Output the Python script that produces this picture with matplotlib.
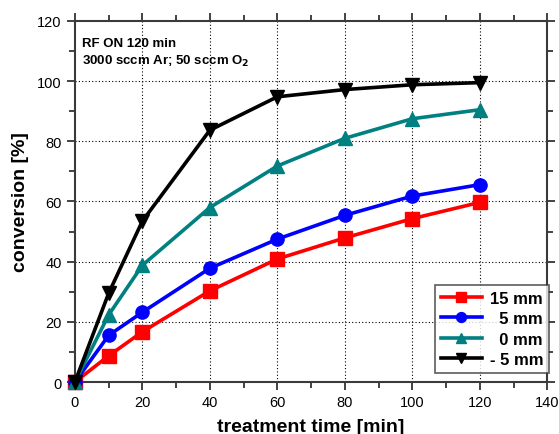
import matplotlib
matplotlib.use("Agg")
import matplotlib.pyplot as plt

plt.rcParams['font.family'] = ['Liberation Sans', 'DejaVu Sans']

# data
t = [0, 10, 20, 40, 60, 80, 100, 120]
conv_15 = [0, 8.7, 16.7, 30.3, 40.9, 47.9, 54.3, 59.7]
conv_5 = [0, 15.5, 23.2, 37.8, 47.5, 55.4, 61.8, 65.6]
conv_0 = [0, 22.3, 38.8, 58.0, 71.8, 81.0, 87.5, 90.5]
conv_m5 = [0, 29.5, 53.5, 83.7, 94.8, 97.2, 98.8, 99.5]

labels = ['15 mm', '\u20075 mm', '\u20070 mm', '- 5 mm']
colors = ['#ff0000', '#0000ff', '#008080', '#000000']
markers = ['s', 'o', '^', 'v']

fig = plt.figure(figsize=(5.59, 4.35), dpi=100)
ax = fig.add_axes([0.134, 0.1195, 0.845, 0.83])

series = [conv_15, conv_5, conv_0, conv_m5]
for y, lab, c, m in zip(series, labels, colors, markers):
    ax.plot(t, y, color=c, marker=m, lw=2.6, ms=9.5, label=lab, clip_on=False, zorder=3)

ax.set_xlim(0, 140)
ax.set_ylim(0, 120)
ax.set_xticks(range(0, 141, 20))
ax.set_yticks(range(0, 121, 20))
ax.set_xticks(range(10, 140, 20), minor=True)
ax.set_yticks(range(10, 120, 20), minor=True)

for x in range(20, 140, 20):
    ax.axvline(x, color='k', ls=(0, (1, 2)), lw=0.8, zorder=1)
for y in range(20, 120, 20):
    ax.axhline(y, color='k', ls=(0, (1, 2)), lw=0.8, zorder=1)

for s in ax.spines.values():
    s.set_color('#3a3a3a')
    s.set_linewidth(1.5)

ax.tick_params(which='both', top=True, right=True, labelsize=10.5, color='#222222', width=1.2)
ax.tick_params(which='major', length=6)
ax.tick_params(which='minor', length=4)
ax.tick_params(axis='x', which='both', bottom=True, direction='in')
ax.tick_params(axis='y', which='both', direction='out')
ax.tick_params(axis='x', which='both', top=True, direction='out', labeltop=False)

ax.set_xlabel('treatment time [min]', fontsize=14, fontweight='bold', labelpad=6)
ax.set_ylabel('conversion [%]', fontsize=14, fontweight='bold', labelpad=6)

ax.text(0.016, 0.94, 'RF ON 120 min', transform=ax.transAxes, fontsize=9.5,
        fontweight='bold', va='center')
ax.text(0.016, 0.89, r'3000 sccm Ar; 50 sccm O$_\mathbf{2}$', transform=ax.transAxes,
        fontsize=9.5, fontweight='bold', va='center')

leg = ax.legend(loc='lower right', bbox_to_anchor=(1.004, 0.025), prop={'weight': 'bold', 'size': 12},
                frameon=True, fancybox=False, edgecolor='#333333', markerscale=0.75,
                handlelength=2.5, handletextpad=0.45, labelspacing=0.33, borderpad=0.35,
                borderaxespad=0.0)
leg.get_frame().set_linewidth(1.2)

fig.savefig('out.png', dpi=100)
